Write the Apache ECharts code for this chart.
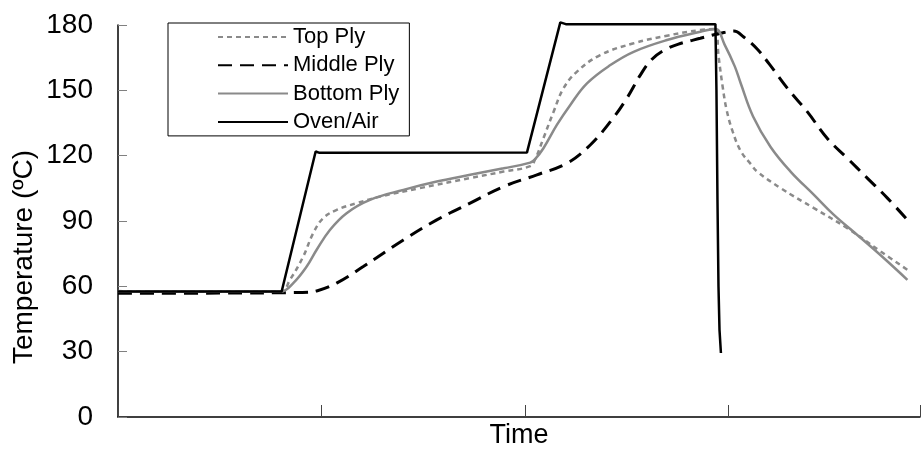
<!DOCTYPE html>
<html>
<head>
<meta charset="utf-8">
<script src="https://cdn.jsdelivr.net/npm/echarts@6/dist/echarts.min.js"></script>
<style>html,body{margin:0;padding:0;background:#fff;}#c{width:921px;height:450px;}</style>
</head>
<body>
<div id="c"></div>
<script>
// Data: [time (arbitrary units), temperature °C]
const seriesNames = ['Top Ply', 'Middle Ply', 'Bottom Ply', 'Oven/Air'];
const yTicks = [0, 30, 60, 90, 120, 150, 180];

const topPly = [[0,57.8],[0.4,57.6],[0.80,57.6],[0.845,63],[0.91,73.7],[0.959,84.4],[1.008,91.3],[1.074,95.1],[1.173,98.2],[1.287,101.2],[1.484,105.1],[1.73,109.7],[1.894,112.7],[2.025,115.2],[2.05,118.5],[2.09,128],[2.14,140.2],[2.189,151],[2.255,158.6],[2.369,166.2],[2.533,171.6],[2.697,175.1],[2.861,177.7],[2.935,178.2],[2.95,166],[2.97,152],[2.99,141],[3.02,131],[3.06,122],[3.11,116],[3.14,112.7],[3.255,105.1],[3.419,95.9],[3.583,86.7],[3.747,76],[3.878,67.6]];

const middlePly = [[0,56.8],[0.5,56.9],[0.9,57.2],[0.98,58],[1.074,61.5],[1.205,69.1],[1.402,81.3],[1.566,90.5],[1.73,98.2],[1.894,105.8],[2.058,111.2],[2.206,116.5],[2.32,124.9],[2.419,135.6],[2.5,146.4],[2.566,157],[2.62,164],[2.68,168.3],[2.75,171.1],[2.861,173.9],[2.96,176.2],[3.025,177.2],[3.074,174.5],[3.14,169],[3.2,162],[3.288,151],[3.386,140.2],[3.484,128],[3.583,118.8],[3.681,109.7],[3.78,100.5],[3.878,90.5]];

const bottomPly = [[0,57.6],[0.4,57.6],[0.80,57.6],[0.861,61.5],[0.927,69.1],[0.976,76.8],[1.041,85.9],[1.123,93.6],[1.238,99.7],[1.402,104.3],[1.566,108.1],[1.73,111.2],[1.894,114.2],[2.025,116.8],[2.05,118.5],[2.09,123.4],[2.156,134.1],[2.222,143.3],[2.304,153.2],[2.419,161.6],[2.533,167.7],[2.697,173.1],[2.861,176.9],[2.935,178.2],[2.98,171],[3.03,161],[3.06,153],[3.12,138],[3.206,124],[3.304,112.7],[3.419,102],[3.517,92.8],[3.632,83.6],[3.763,72.9],[3.878,63]];

const ovenAir = [[0,57.6],[0.804,57.6],[0.971,121.9],[0.99,121.3],[2.009,121.4],[2.173,181.2],[2.2,180.4],[2.935,180.4],[2.94,150],[2.945,100],[2.95,60],[2.955,40],[2.962,29.4]];

const FONT = 'Liberation Sans, Arial, sans-serif';
const chart = echarts.init(document.getElementById('c'), null, {renderer: 'canvas'});
const gray = '#8a8a8a';
chart.setOption({
  animation: false,
  backgroundColor: '#fff',
  grid: {left: 118, right: 1, top: 25, bottom: 33, containLabel: false, outerBoundsMode: 'none'},
  legend: {
    data: seriesNames,
    orient: 'vertical',
    left: 168, top: 23,
    padding: [3, 10, 3, 49],
    borderColor: '#000', borderWidth: 1,
    itemWidth: 70, itemHeight: 14, itemGap: 6.3,
    itemStyle: {opacity: 0, color: 'transparent', borderWidth: 0},
    textStyle: {fontFamily: FONT, fontSize: 22, color: '#000', lineHeight: 20}
  },
  xAxis: {
    type: 'value', min: 0, max: 3.94, interval: 1,
    name: 'Time', nameLocation: 'middle', nameGap: 5,
    nameTextStyle: {fontFamily: FONT, fontSize: 27, color: '#000', verticalAlign: 'top'},
    axisLine: {show: true, lineStyle: {color: '#000', width: 1.5}},
    axisTick: {show: true, inside: true, length: 12, lineStyle: {color: '#444'}},
    axisLabel: {show: false},
    splitLine: {show: false}
  },
  yAxis: {
    type: 'value', min: yTicks[0], max: yTicks[yTicks.length - 1], interval: 30,
    axisLine: {show: true, lineStyle: {color: '#000', width: 1.5}},
    axisTick: {show: true, inside: true, length: 9, lineStyle: {color: '#808080'}},
    axisLabel: {fontFamily: FONT, fontSize: 28, color: '#000', margin: 25},
    splitLine: {show: false}
  },
  graphic: [{
    type: 'text', x: 24, y: 257, rotation: Math.PI / 2,
    style: {text: 'Temperature (ºC)', font: '28px ' + FONT, fill: '#000', textAlign: 'center', textVerticalAlign: 'middle'}
  }],
  series: [
    {name: seriesNames[0], type: 'line', data: topPly, showSymbol: false, symbol: 'none', smooth: 0.4, clip: false,
     lineStyle: {color: gray, width: 2.5, type: [5, 4]}, itemStyle: {color: gray}},
    {name: seriesNames[1], type: 'line', data: middlePly, showSymbol: false, symbol: 'none', smooth: 0.4, clip: false,
     lineStyle: {color: '#000', width: 3, type: [14, 8]}, itemStyle: {color: '#000'}},
    {name: seriesNames[2], type: 'line', data: bottomPly, showSymbol: false, symbol: 'none', smooth: 0.4, clip: false,
     lineStyle: {color: gray, width: 2.5, type: 'solid'}, itemStyle: {color: gray}},
    {name: seriesNames[3], type: 'line', data: ovenAir, showSymbol: false, symbol: 'none', smooth: false, clip: false,
     lineStyle: {color: '#000', width: 2.5, type: 'solid'}, itemStyle: {color: '#000'}}
  ]
});
</script>
</body>
</html>
